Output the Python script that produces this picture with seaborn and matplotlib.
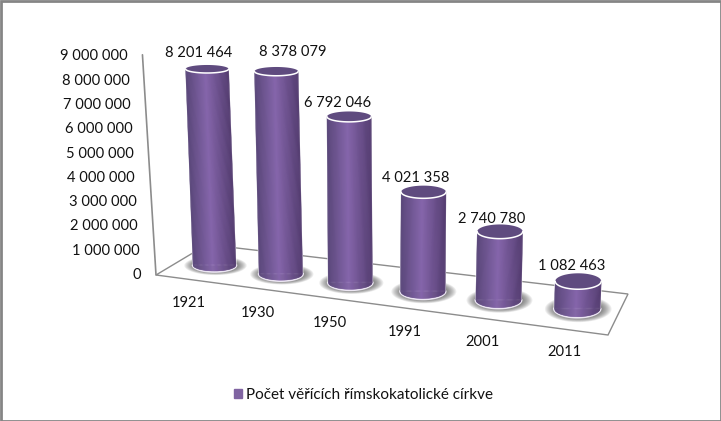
import numpy as np
import pandas as pd
import matplotlib
matplotlib.use("Agg")
import matplotlib.pyplot as plt
from matplotlib.collections import PolyCollection
from matplotlib.patches import Patch, Polygon, Rectangle
from matplotlib.transforms import Transform
import seaborn as sns

years = ["1921", "1930", "1950", "1991", "2001", "2011"]
believers = [8201464, 8378079, 6792046, 4021358, 2740780, 1082463]
y_ticks = [0, 1000000, 2000000, 3000000, 4000000, 5000000, 6000000, 7000000, 8000000, 9000000]
series_name = "Počet věřících římskokatolické církve"

PURPLE = "#8064a2"
GRID = "#8c8c8c"
TEXT = "#111111"

sns.set_theme(style="white")
plt.rcParams["font.family"] = ["Lato", "DejaVu Sans"]


# --- oblique projection: (category index, value) -> chart pixel ---
def x_base(i):
    return 214.5 + 64.8 * i + 1.55 * i ** 2


def y_base(i):
    return 265 + 8.7 * i


def lean(i):
    return -0.9 + 0.36 * i


def y_scale(i):
    return 23.9 + 0.25 * i


def half_w(i):
    return 21.5 + 0.3 * i


def half_h(i, y):
    return 3.3 + 0.0102 * y + 0.36 * i


def project(u, v):
    u = np.asarray(u, float)
    v = np.asarray(v, float)
    c = np.round(u)
    m = v / 1e6
    x = x_base(c) + lean(c) * m + (u - c) / 0.4 * half_w(c)
    y = y_base(c) - y_scale(c) * m
    return x, y


class Oblique(Transform):
    input_dims = 2
    output_dims = 2
    is_affine = False
    has_inverse = False

    def transform_non_affine(self, values):
        values = np.asarray(values, float)
        x, y = project(values[:, 0], values[:, 1])
        return np.column_stack([x, y])


def wall(v):
    m = v / 1e6
    return 156 - 1.45 * m, 274.5 - 24.3 * m


df = pd.DataFrame({"rok": years, "pocet": believers})

fig = plt.figure(figsize=(7.21, 4.21), dpi=100, facecolor="white")
ax = fig.add_axes([0, 0, 1, 1])
sns.barplot(data=df, x="rok", y="pocet", color=PURPLE, saturation=1, width=0.8, ax=ax)
ax.set_xlim(0, 721)
ax.set_ylim(421, 0)
ax.set_axis_off()

proj = Oblique() + ax.transData
for bar in ax.patches:
    bar.set_transform(proj)
    bar.set_zorder(4)
    bar.set_clip_on(False)

# frame
ax.add_patch(Rectangle((0.5, 0.5), 720, 420, fc="none", ec="#858585", lw=2, zorder=1))

# floor and wall
ax.add_patch(Polygon([(156, 275), (207, 244.5), (628, 294), (608, 335)],
                     closed=True, fc="white", ec=GRID, lw=1, zorder=2))
wx, wy = wall(9000000)
ax.plot([156, wx - 0.5], [275, wy - 1], color=GRID, lw=1.2, zorder=2)


def ellipse(cx, cy, a, b, t0=0, t1=2 * np.pi, n=80):
    t = np.linspace(t0, t1, n)
    return cx + a * np.cos(t), cy + b * np.sin(t)


stops = np.array([[0x58, 0x46, 0x78], [0x86, 0x66, 0xac], [0x54, 0x3d, 0x70]]) / 255


def shade(t):
    s = (t + 1) / 2
    return [np.interp(s, [0, 0.47, 1], stops[:, k]) for k in range(3)]


n_strips = 50
edges = np.linspace(-1, 1, n_strips + 1)
for i, value in enumerate(believers):
    bx, by = project(i, 0)
    tx, ty = project(i, value)
    a = half_w(i)
    hb = half_h(i, by)
    ht = half_h(i, ty)

    # soft shadow on the floor
    for s in np.linspace(1.45, 0.95, 12):
        ex, ey = ellipse(bx + 1, by + 0.5, a * s, hb * s * 1.1)
        ax.fill(ex, ey, color="#444444", alpha=0.085, lw=0, zorder=3)

    # white rim below the cylinder
    ex, ey = ellipse(bx, by, a + 0.3, hb + 0.8, 0, np.pi)
    ax.plot(ex, ey, color="#ece6f3", lw=1.5, zorder=3.5, solid_capstyle="round")

    # cylinder wall as shaded vertical strips
    polys, cols = [], []
    for t0, t1 in zip(edges[:-1], edges[1:]):
        ts = np.array([t0, t1])
        low = by + hb * np.sqrt(1 - ts ** 2)
        high = ty + ht * np.sqrt(1 - ts ** 2)
        xl = bx + ts * a
        xh = tx + ts * a
        polys.append([(xh[0], high[0]), (xh[1], high[1]), (xl[1], low[1]), (xl[0], low[0])])
        cols.append(shade((t0 + t1) / 2))
    ax.add_collection(PolyCollection(polys, facecolors=cols, edgecolors=cols, lw=0.3, zorder=5))

    # top face
    ex, ey = ellipse(tx, ty, a, ht)
    ax.fill(ex, ey, color="#5f4b7f", lw=0, zorder=6)
    ex, ey = ellipse(tx, ty, a, ht, 0, np.pi)
    ax.plot(ex, ey, color="white", lw=1.1, zorder=6.5, solid_capstyle="round")

# data labels
label_dx = [-8, 16, -11.5, -7.5, -8, -7]
label_dy = [-16, -19, -14, -14, -13, -15]
for i, value in enumerate(believers):
    tx, ty = project(i, value)
    ax.text(tx + label_dx[i], ty + label_dy[i], f"{value:,}".replace(",", " "),
            ha="center", va="center", fontsize=10.6, color=TEXT, zorder=8)

# value axis labels
for tick in y_ticks:
    wx, wy = wall(tick)
    ax.text(wx - 15, wy + 0.5, f"{tick:,}".replace(",", " "), ha="right", va="center",
            fontsize=10.6, color=TEXT, zorder=8)

# category labels
for i, year in enumerate(years):
    ax.text(x_base(i) - 25.5 + 2.5 * i, 303 + 9.8 * i, year, ha="center", va="center",
            fontsize=10.6, color=TEXT, zorder=8)

ax.legend(handles=[Patch(color=PURPLE, label=series_name)], loc="center",
          bbox_to_anchor=(363.5 / 721, 1 - 395 / 421), frameon=False, fontsize=11,
          handlelength=0.5, handleheight=0.5, handletextpad=0.3, labelcolor=TEXT,
          borderpad=0, borderaxespad=0)

fig.savefig("out.png", dpi=100, facecolor="white")
